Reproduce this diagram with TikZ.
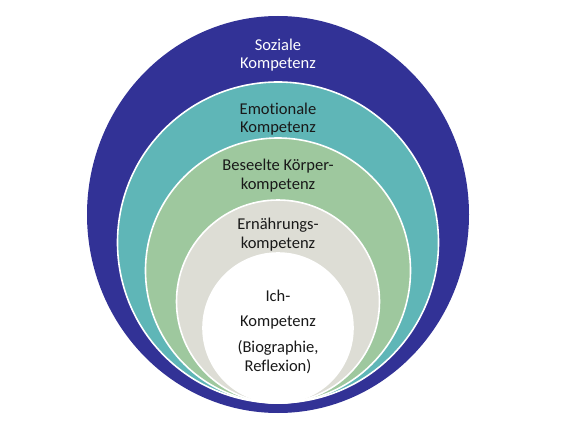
\documentclass[tikz,border=0pt]{standalone}
\usepackage{fontspec}
\setmainfont{Carlito}[Ligatures=NoCommon]
\usepackage{tikz}
\definecolor{sozial}{RGB}{50,50,150}
\definecolor{emotion}{RGB}{95,182,183}
\definecolor{koerper}{RGB}{158,200,158}
\definecolor{ernaehrung}{RGB}{221,221,213}
\definecolor{textdark}{RGB}{25,25,25}

\begin{document}
\begin{tikzpicture}[x=1pt, y=1pt,
		ring/.style={draw=white, line width=1.6pt},
		ringtext/.style={align=center, text=textdark, font=\fontsize{16.5}{18.5}\selectfont, inner sep=0pt}]
			%%%%% START %%%%%
			
			\useasboundingbox (0, 0) rectangle (576, 432);
			
			\fill[sozial] (278, 217.5) ellipse (191 and 198.5);
			
			\draw[ring, fill=emotion] (278, 189.5) circle (160.5);
			\draw[ring, fill=koerper] (278, 161.5) circle (132.5);
			\draw[ring, fill=ernaehrung] (278, 130.5) circle (101.5);
			\draw[ring, fill=white] (278, 104) circle (75);
			
			\node[ringtext, text=white] (soziale) at (278, 377) {Soziale\\Kompetenz};
			\node[ringtext] (emotionale) at (278, 313) {Emotionale\\Kompetenz};
			\node[ringtext] (koerper) at (278, 256.5) {Beseelte Körper-\\kompetenz};
			\node[ringtext] (ernaehrung) at (278, 197.5) {Ernährungs-\\kompetenz};
			
			\node[ringtext] (ich) at (278, 136) {Ich-};
			\node[ringtext] (ichkomp) at (278, 109) {Kompetenz};
			\node[ringtext] (biographie) at (278, 75) {(Biographie,\\Reflexion)};
			
			%%%%% END %%%%%
		\end{tikzpicture}
\end{document}
